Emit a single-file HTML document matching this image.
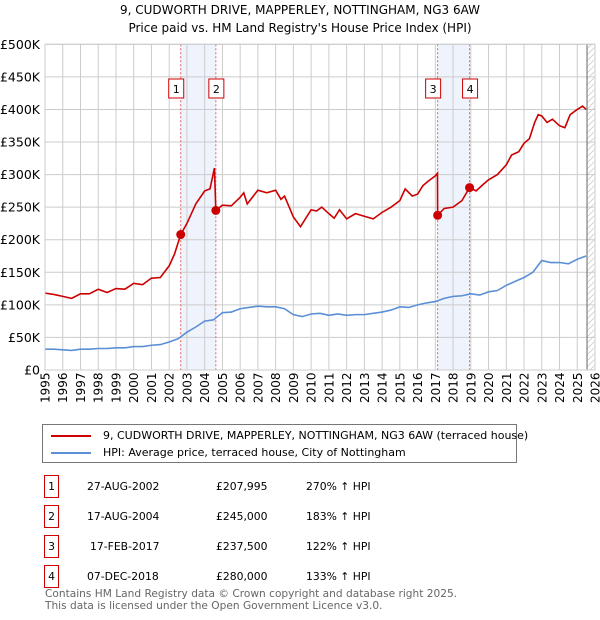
<!DOCTYPE html>
<html><head><meta charset="utf-8"><style>
body{margin:0;background:#fff;width:600px;height:620px;overflow:hidden;font-family:"DejaVu Sans","Liberation Sans",sans-serif;}
svg{position:absolute;left:0;top:0}
text{font-family:"DejaVu Sans","Liberation Sans",sans-serif;}
</style></head><body>
<svg id="c" width="600" height="620"></svg>
<script>
const years=[1995,1996,1997,1998,1999,2000,2001,2002,2003,2004,2005,2006,2007,2008,2009,2010,2011,2012,2013,2014,2015,2016,2017,2018,2019,2020,2021,2022,2023,2024,2025,2026];
const yTicks=[0,50,100,150,200,250,300,350,400,450,500];
const hpiT=[1995,1995.5,1996,1996.5,1997,1997.5,1998,1998.5,1999,1999.5,2000,2000.5,2001,2001.5,2002,2002.5,2003,2003.5,2004,2004.5,2005,2005.5,2006,2006.5,2007,2007.5,2008,2008.5,2009,2009.5,2010,2010.5,2011,2011.5,2012,2012.5,2013,2013.5,2014,2014.5,2015,2015.5,2016,2016.5,2017,2017.5,2018,2018.5,2019,2019.5,2020,2020.5,2021,2021.5,2022,2022.5,2023,2023.5,2024,2024.5,2025,2025.5];
const hpiV=[32,32,31,30,32,32,33,33,34,34,36,36,38,39,43,48,58,66,75,77,88,89,94,96,98,97,97,94,85,82,86,87,84,86,84,85,85,87,89,92,97,96,100,103,105,110,113,114,117,115,120,122,130,136,142,150,168,165,165,163,170,175];
const redT=[1995,1995.5,1996,1996.5,1997,1997.5,1998,1998.5,1999,1999.5,2000,2000.5,2001,2001.5,2002,2002.3,2002.65,2003,2003.5,2004,2004.3,2004.55,2004.63,2005,2005.5,2006,2006.2,2006.4,2007,2007.5,2008,2008.3,2008.5,2009,2009.4,2010,2010.3,2010.6,2011,2011.3,2011.6,2012,2012.5,2013,2013.5,2014,2014.5,2015,2015.3,2015.7,2016,2016.3,2016.6,2017,2017.12,2017.13,2017.5,2018,2018.5,2018.93,2019.3,2019.7,2020,2020.5,2021,2021.3,2021.7,2022,2022.3,2022.6,2022.8,2023,2023.3,2023.6,2024,2024.3,2024.6,2025,2025.3,2025.5];
const redV=[118,116,113,110,117,117,124,119,125,124,133,131,141,142,160,178,208,225,255,275,278,310,245,253,252,265,272,255,276,272,276,262,267,235,220,246,244,250,240,233,246,232,240,236,232,242,250,260,278,267,270,283,290,298,302,237.5,248,250,260,280,275,285,292,300,315,330,335,348,355,380,392,390,380,385,375,372,392,400,405,400];
const saleT=[2002.65,2004.63,2017.13,2018.93];
const saleV=[207.995,245,237.5,280];
const saleLbl=["1","2","3","4"];
const X0=45,X1=595,Y0=370,Y1=44.3;
const xs=t=>X0+(t-1995)*(X1-X0)/31;
const ys=v=>Y0-v*(Y0-Y1)/500;
const s=document.getElementById('c');const NS='http://www.w3.org/2000/svg';
function mk(tag,a,txt){const e=document.createElementNS(NS,tag);for(const k in a)e.setAttribute(k,a[k]);if(txt!==undefined)e.textContent=txt;s.appendChild(e);return e;}
function T(x,y,t,o){const e=mk('text',Object.assign({x:x,y:y,'font-size':12,fill:'#000'},o||{}),t);return e;}
let e;
e=T(300,14,'9, CUDWORTH DRIVE, MAPPERLEY, NOTTINGHAM, NG3 6AW',{'text-anchor':'middle'});


e=T(300,32,"Price paid vs. HM Land Registry's House Price Index (HPI)",{'text-anchor':'middle'});


for(let i=0;i<4;i+=2){e=mk('rect',{x:xs(saleT[i]),y:Y1,width:xs(saleT[i+1])-xs(saleT[i]),height:Y0-Y1,fill:'#eef3fc'});

}
const defs=mk('defs',{});defs.innerHTML='<pattern id="h" width="6" height="6" patternUnits="userSpaceOnUse"><path d="M0,6 L6,0" stroke="#ccc" stroke-width="0.8"/></pattern>';
e=mk('rect',{x:xs(2025.55),y:Y1,width:X1-xs(2025.55),height:Y0-Y1,fill:'url(#h)'});


years.forEach(y=>{e=mk('line',{x1:xs(y),x2:xs(y),y1:Y1,y2:Y0,stroke:'#ccc','stroke-width':1});


e=T(0,0,String(y),{transform:`translate(${xs(y)+4.5},${Y0+33}) rotate(-90)`,'font-size':12});

});
yTicks.forEach(v=>{e=mk('line',{x1:X0,x2:X1,y1:ys(v),y2:ys(v),stroke:'#ccc','stroke-width':1});


e=T(40,ys(v)+4.5,v===0?'£0':'£'+v+'K',{'text-anchor':'end','font-size':12.5});

});
e=mk('line',{x1:xs(2025.55),x2:xs(2025.55),y1:Y1,y2:Y0,stroke:'#666','stroke-width':1});


saleT.forEach(t=>{e=mk('line',{x1:xs(t),x2:xs(t),y1:Y1,y2:Y0,stroke:'#e86060','stroke-width':1,'stroke-dasharray':'2,2'});

});
e=mk('polyline',{points:hpiT.map((t,i)=>xs(t)+','+ys(hpiV[i])).join(' '),fill:'none',stroke:'#5b8fd6','stroke-width':1.6});


e=mk('polyline',{points:redT.map((t,i)=>xs(t)+','+ys(redV[i])).join(' '),fill:'none',stroke:'#cc0000','stroke-width':1.6});


saleT.forEach((t,i)=>{e=mk('circle',{cx:xs(t),cy:ys(saleV[i]),r:4.5,fill:'#cc0000'});


const lx=i%2===0?xs(t)-10:xs(t)-5;
e=mk('rect',{x:lx-2,y:79,width:15,height:19,fill:'#fff',stroke:'#cc0000','stroke-width':1});


e=T(lx+5.5,93,saleLbl[i],{'text-anchor':'middle','font-size':11});

});
e=mk('rect',{x:X0,y:Y1,width:X1-X0,height:Y0-Y1,fill:'none',stroke:'#ccc'});


</script>
<div style="position:absolute;left:42px;top:424px;width:473px;height:37px;border:1px solid #777;font-size:11px;">
<div style="position:absolute;left:8px;top:4px;white-space:nowrap"><span style="display:inline-block;width:40px;height:2px;background:#cc0000;vertical-align:middle;margin-right:12px"></span>9, CUDWORTH DRIVE, MAPPERLEY, NOTTINGHAM, NG3 6AW (terraced house)</div>
<div style="position:absolute;left:8px;top:21px;white-space:nowrap"><span style="display:inline-block;width:40px;height:2px;background:#5b8fd6;vertical-align:middle;margin-right:12px"></span>HPI: Average price, terraced house, City of Nottingham</div>
</div>
<div style="position:absolute;left:0;top:0;font-size:10.8px">
<div style="position:absolute;top:475px;left:44px;width:13px;height:21px;border:1px solid #cc0000;text-align:center;line-height:21px">1</div>
<div style="position:absolute;top:480px;left:87px;white-space:nowrap">27-AUG-2002</div>
<div style="position:absolute;top:480px;left:216px">£207,995</div>
<div style="position:absolute;top:480px;left:306px;white-space:nowrap">270% ↑ HPI</div>
<div style="position:absolute;top:505px;left:44px;width:13px;height:21px;border:1px solid #cc0000;text-align:center;line-height:21px">2</div>
<div style="position:absolute;top:510px;left:87px;white-space:nowrap">17-AUG-2004</div>
<div style="position:absolute;top:510px;left:216px">£245,000</div>
<div style="position:absolute;top:510px;left:306px;white-space:nowrap">183% ↑ HPI</div>
<div style="position:absolute;top:535px;left:44px;width:13px;height:21px;border:1px solid #cc0000;text-align:center;line-height:21px">3</div>
<div style="position:absolute;top:540px;left:90px;white-space:nowrap">17-FEB-2017</div>
<div style="position:absolute;top:540px;left:216px">£237,500</div>
<div style="position:absolute;top:540px;left:306px;white-space:nowrap">122% ↑ HPI</div>
<div style="position:absolute;top:565px;left:44px;width:13px;height:21px;border:1px solid #cc0000;text-align:center;line-height:21px">4</div>
<div style="position:absolute;top:570px;left:87px;white-space:nowrap">07-DEC-2018</div>
<div style="position:absolute;top:570px;left:216px">£280,000</div>
<div style="position:absolute;top:570px;left:306px;white-space:nowrap">133% ↑ HPI</div>
</div>
<div style="position:absolute;left:45px;top:589px;font-size:10.6px;color:#666;line-height:11.5px;white-space:nowrap">Contains HM Land Registry data © Crown copyright and database right 2025.<br>This data is licensed under the Open Government Licence v3.0.</div>
</body></html>
